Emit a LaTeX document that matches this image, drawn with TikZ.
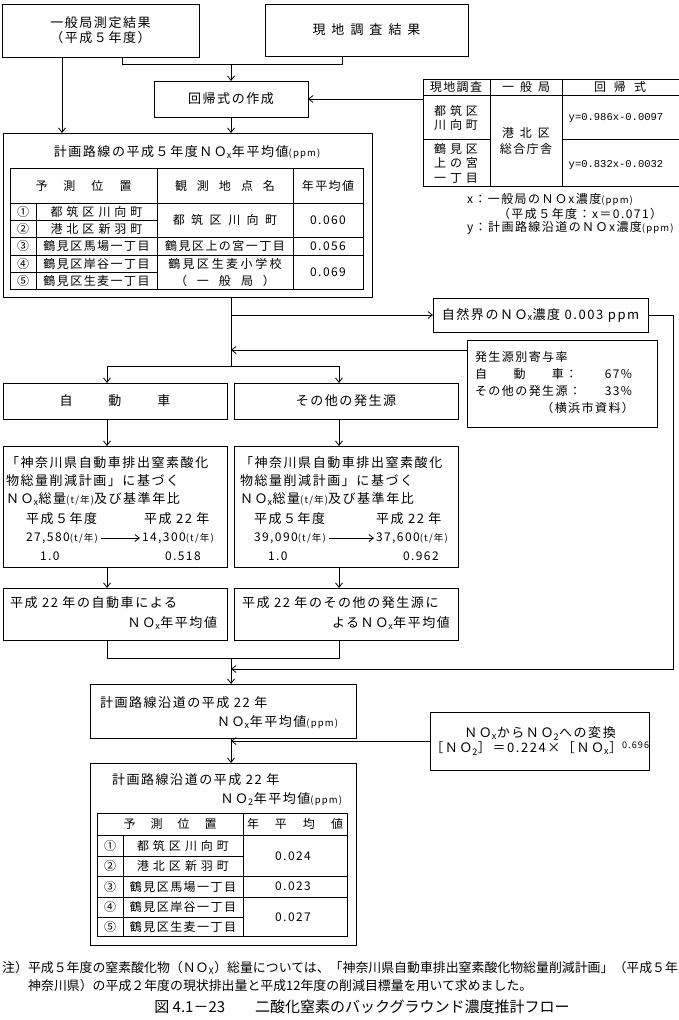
\documentclass[tikz,border=0pt]{standalone}
\usepackage{fontspec}
\setmainfont{Noto Sans CJK JP}[LetterSpace=12]
\newfontfamily\plainjp{Noto Sans CJK JP}
\newfontfamily\monof{Liberation Mono}
\usetikzlibrary{arrows.meta}
\newcommand\smtxt[1]{{\fontsize{9.5}{11}\selectfont #1}}
\newcommand\NOx{ＮＯ\textsubscript{x}}
\newcommand\NOtwo{ＮＯ\textsubscript{2}}
\begin{document}
\begin{tikzpicture}[x=1pt,y=-1pt,
  box/.style={draw,line width=0.9pt,inner sep=0pt,outer sep=0pt,align=center,font=\fontsize{13}{15}\selectfont},
  t/.style={inner sep=0pt,outer sep=0pt,font=\fontsize{13}{15}\selectfont},
  ts/.style={inner sep=0pt,outer sep=0pt,font=\fontsize{12}{14}\selectfont},
  tn/.style={inner sep=0pt,outer sep=0pt,font=\fontsize{11.5}{13}\selectfont},
  ar/.style={line width=0.8pt,-{Straight Barb[length=4.5pt,width=7pt]}},
  ln/.style={line width=0.8pt},
  tl/.style={line width=0.8pt}]
\fill[white] (0,0) rectangle (679,1020);
\useasboundingbox (0,0) rectangle (679,1020);

% ---------- top boxes
\node[box,minimum width=197,minimum height=53] (A) at (100.5,30.5) {一般局測定結果\\（平成５年度）};
\node[box,minimum width=203,minimum height=52] (B) at (366.5,30) {現\hspace{6pt}地\hspace{6pt}調\hspace{6pt}査\hspace{6pt}結\hspace{6pt}果};
\node[box,minimum width=154,minimum height=36] (C) at (231,99) {回帰式の作成};
\node[box,minimum width=369,minimum height=164] (D) at (187.5,215) {};

\coordinate (jA) at (122,64); \coordinate (jB) at (342,64); \coordinate (jC) at (231,64); \coordinate (xA) at (62,0);
\draw[ln] (A.south -| jA) -- (jA) -- (jB) -- (B.south -| jB);
\draw[ar] (jC) -- (C.north);
\draw[ar] (A.south -| xA) -- (D.north -| xA);
\draw[ar] (C.south) -- (D.north -| C.south);

% ---------- regression table (top right)
\draw[tl] (423,79) -- (679,79) (423,95) -- (679,95) (423,186) -- (679,186);
\draw[tl] (423,79) -- (423,186) (490,79) -- (490,186) (562,79) -- (562,186);
\draw[tl] (423,139) -- (490,139) (562,139) -- (679,139);
\coordinate (T1) at (423,99);
\draw[ar] (T1) -- (C.east);
\node[ts] (th1) at (456,87) {現地調査};
\node[ts] (th2) at (526,87) {一\hspace{6pt}般\hspace{6pt}局};
\node[ts] (th3) at (620,87) {回\hspace{8pt}帰\hspace{8pt}式};
\node[ts,align=center,font=\fontsize{12}{13.5}\selectfont] (tr1) at (456,118) {都\hspace{4pt}筑\hspace{4pt}区\\川\hspace{4pt}向\hspace{4pt}町};
\node[ts,align=center,font=\fontsize{12}{14.5}\selectfont] (tr2) at (456,163) {鶴\hspace{4pt}見\hspace{4pt}区\\上\hspace{4pt}の\hspace{4pt}宮\\一\hspace{4pt}丁\hspace{4pt}目};
\node[ts,align=center,font=\fontsize{12}{16}\selectfont] (tr3) at (526,141) {港\hspace{6pt}北\hspace{6pt}区\\総合庁舎};
\node[inner sep=0pt,font=\monof\fontsize{10.5}{12}\selectfont] (te1) at (616,118) {y=0.986x-0.0097};
\node[inner sep=0pt,font=\monof\fontsize{10.5}{12}\selectfont] (te2) at (616,165) {y=0.832x-0.0032};
\node[ts,anchor=west] (tn1) at (467,200) {x：一般局のＮＯx濃度\smtxt{(ppm)}};
\node[ts,anchor=west] (tn2) at (498,214) {（平成５年度：x＝0.071）};
\node[ts,anchor=west] (tn3) at (467,228) {y：計画路線沿道のＮＯx濃度\smtxt{(ppm)}};

% ---------- box D content
\node[t] (dT) at (187,152) {計画路線の平成５年度\NOx 年平均値\smtxt{(ppm)}};
\draw[tl] (10,168) rectangle (363,289);
\draw[tl] (10,203) -- (363,203) (10,237) -- (363,237) (10,255) -- (363,255);
\draw[tl] (10,220) -- (157,220) (10,272) -- (157,272);
\draw[tl] (36,203) -- (36,289) (157,168) -- (157,289) (293,168) -- (293,289);
\node[ts] (dh1) at (83.5,185.5) {予\hspace{16pt}測\hspace{16pt}位\hspace{16pt}置};
\node[ts] (dh2) at (225,185.5) {観\hspace{10pt}測\hspace{10pt}地\hspace{10pt}点\hspace{10pt}名};
\node[ts] (dh3) at (328,185.5) {年平均値};
\node[ts] (dn1) at (23,211.5) {①};
\node[ts] (dn2) at (23,228.5) {②};
\node[ts] (dn3) at (23,246) {③};
\node[ts] (dn4) at (23,263.5) {④};
\node[ts] (dn5) at (23,280.5) {⑤};
\node[ts] (dl1) at (96.5,211.5) {都\hspace{4pt}筑\hspace{4pt}区\hspace{4pt}川\hspace{4pt}向\hspace{4pt}町};
\node[ts] (dl2) at (96.5,228.5) {港\hspace{4pt}北\hspace{4pt}区\hspace{4pt}新\hspace{4pt}羽\hspace{4pt}町};
\node[ts] (dl3) at (96.5,246) {鶴見区馬場一丁目};
\node[ts] (dl4) at (96.5,263.5) {鶴見区岸谷一丁目};
\node[ts] (dl5) at (96.5,280.5) {鶴見区生麦一丁目};
\node[ts] (do1) at (225,220) {都\hspace{6.5pt}筑\hspace{6.5pt}区\hspace{6.5pt}川\hspace{6.5pt}向\hspace{6.5pt}町};
\node[ts] (do2) at (225,246) {鶴見区上の宮一丁目};
\node[ts] (do3) at (225,264) {鶴\hspace{2.5pt}見\hspace{2.5pt}区\hspace{2.5pt}生\hspace{2.5pt}麦\hspace{2.5pt}小\hspace{2.5pt}学\hspace{2.5pt}校};
\node[ts] (do4) at (225,280.5) {（\hspace{10pt}一\hspace{10pt}般\hspace{10pt}局\hspace{10pt}）};
\node[ts] (dv1) at (328,220) {0.060};
\node[ts] (dv2) at (328,246) {0.056};
\node[ts] (dv3) at (328,272) {0.069};

% ---------- natural / source share
\node[box,minimum width=215,minimum height=34] (N) at (540.5,315) {自然界の\NOx 濃度 0.003 ppm};
\node[box,minimum width=190,minimum height=87] (S) at (562,383.5) {};
\node[ts,anchor=west] (s1) at (475,357) {発生源別寄与率};
\node[ts,anchor=west] (s2) at (475,374) {自\hspace{26.5pt}動\hspace{26.5pt}車：};
\node[ts,anchor=west] (s3) at (475,391) {その他の発生源：};
\node[ts,anchor=east] (s4) at (632,374) {67\%};
\node[ts,anchor=east] (s5) at (632,391) {33\%};
\node[ts,anchor=east] (s6) at (634,408) {（横浜市資料）};

\coordinate (m1) at (231,315); \coordinate (m2) at (231,350);
\coordinate (sp) at (231,366); \coordinate (spL) at (107,366); \coordinate (spR) at (339,366);
\draw[ln] (D.south -| sp) -- (sp);
\draw[ar] (m1) -- (N.west);
\draw[ar] (S.west |- m2) -- (m2);
\draw[ln] (spL) -- (spR);

% ---------- two branches
\node[box,minimum width=224,minimum height=36] (Car) at (115,401) {自\hspace{36pt}動\hspace{36pt}車};
\node[box,minimum width=224,minimum height=36] (Oth) at (346,401) {その他の発生源};
\node[box,minimum width=224,minimum height=121] (Car2) at (115,506.5) {};
\node[box,minimum width=224,minimum height=121] (Oth2) at (346,506.5) {};
\node[box,minimum width=224,minimum height=52] (Car3) at (115,614) {};
\node[box,minimum width=224,minimum height=52] (Oth3) at (346,614) {};

\draw[ar] (spL) -- (Car.north -| spL);
\draw[ar] (spR) -- (Oth.north -| spR);
\draw[ar] (Car.south -| spL) -- (Car2.north -| spL);
\draw[ar] (Oth.south -| spR) -- (Oth2.north -| spR);
\draw[ar] (Car2.south -| spL) -- (Car3.north -| spL);
\draw[ar] (Oth2.south -| spR) -- (Oth3.north -| spR);

% left middle box text
\node[t,anchor=west] (c1) at (6,463) {「神奈川県自動車排出窒素酸化};
\node[t,anchor=west] (c2) at (6,481) {物総量削減計画」に基づく};
\node[t,anchor=west] (c3) at (6,499) {\NOx 総量\smtxt{(t/年)}及び基準年比};
\node[t,anchor=west] (c4) at (26,519) {平成５年度};
\node[t,anchor=west] (c5) at (144,519) {平成 22 年};
\node[ts,anchor=west] (c6) at (26,538) {27,580\smtxt{(t/年)}};
\node[ts,anchor=west] (c7) at (142,538) {14,300\smtxt{(t/年)}};
\node[ts,anchor=west] (c8) at (40,556) {1.0};
\node[ts,anchor=west] (c9) at (165,556) {0.518};
\draw[ar] ([xshift=3pt]c6.east) -- ([xshift=-2pt]c7.west);

% right middle box text
\node[t,anchor=west] (o1) at (240,463) {「神奈川県自動車排出窒素酸化};
\node[t,anchor=west] (o2) at (240,481) {物総量削減計画」に基づく};
\node[t,anchor=west] (o3) at (240,499) {\NOx 総量\smtxt{(t/年)}及び基準年比};
\node[t,anchor=west] (o4) at (254,519) {平成５年度};
\node[t,anchor=west] (o5) at (376,519) {平成 22 年};
\node[ts,anchor=west] (o6) at (254,538) {39,090\smtxt{(t/年)}};
\node[ts,anchor=west] (o7) at (376,538) {37,600\smtxt{(t/年)}};
\node[ts,anchor=west] (o8) at (268,556) {1.0};
\node[ts,anchor=west] (o9) at (403,556) {0.962};
\draw[ar] ([xshift=3pt]o6.east) -- ([xshift=-2pt]o7.west);

% lower branch box text
\node[t,anchor=west] (c10) at (10,603) {平成 22 年の自動車による};
\node[t,anchor=east] (c11) at (217,623) {\NOx 年平均値};
\node[t,anchor=west] (o10) at (242,603) {平成 22 年のその他の発生源に};
\node[t,anchor=east] (o11) at (450,623) {よる\NOx 年平均値};

% merge and return
\coordinate (mg) at (231,658);
\coordinate (r1) at (673,315); \coordinate (r2) at (673,669); \coordinate (r3) at (231,669);
\draw[ln] (Car3.south -| spL) -- (spL |- mg) -- (spR |- mg) -- (Oth3.south -| spR);
\draw[ar] (N.east) -- (r1) -- (r2) -- (r3);

% ---------- final boxes
\node[box,minimum width=266,minimum height=54] (E) at (223,711) {};
\node[box,minimum width=216,minimum height=58] (X) at (540,741) {\NOx からＮＯ\textsubscript{2}への変換\\［\NOtwo］＝0.224×［\NOx］\textsuperscript{0.696}};
\node[box,minimum width=266,minimum height=182] (F) at (223,854) {};
\draw[ar] (mg) -- (E.north -| mg);
\draw[ar] (X.west) -- (X.west -| mg);
\draw[ar] (E.south -| mg) -- (F.north -| mg);

\node[t,anchor=west] (e1) at (100,703) {計画路線沿道の平成 22 年};
\node[t,anchor=east] (e2) at (338,722) {\NOx 年平均値\smtxt{(ppm)}};

\node[t,anchor=west] (f1) at (112,780) {計画路線沿道の平成 22 年};
\node[t,anchor=east] (f2) at (342,799) {\NOtwo 年平均値\smtxt{(ppm)}};
\draw[tl] (97,813) rectangle (347,936);
\draw[tl] (97,835) -- (347,835) (97,876) -- (347,876) (97,897) -- (347,897);
\draw[tl] (97,856) -- (243,856) (97,917) -- (243,917);
\draw[tl] (123,835) -- (123,936) (243,813) -- (243,936);
\node[ts] (fh1) at (170,824) {予\hspace{15pt}測\hspace{15pt}位\hspace{15pt}置};
\node[ts] (fh2) at (295,824) {年\hspace{16pt}平\hspace{16pt}均\hspace{16pt}値};
\node[ts] (fn1) at (110,845.5) {①};
\node[ts] (fn2) at (110,866) {②};
\node[ts] (fn3) at (110,886.5) {③};
\node[ts] (fn4) at (110,907) {④};
\node[ts] (fn5) at (110,926.5) {⑤};
\node[ts] (fl1) at (183,845.5) {都\hspace{4pt}筑\hspace{4pt}区\hspace{4pt}川\hspace{4pt}向\hspace{4pt}町};
\node[ts] (fl2) at (183,866) {港\hspace{4pt}北\hspace{4pt}区\hspace{4pt}新\hspace{4pt}羽\hspace{4pt}町};
\node[ts] (fl3) at (183,886.5) {鶴見区馬場一丁目};
\node[ts] (fl4) at (183,907) {鶴見区岸谷一丁目};
\node[ts] (fl5) at (183,926.5) {鶴見区生麦一丁目};
\node[ts] (fv1) at (293,856) {0.024};
\node[ts] (fv2) at (293,886.5) {0.023};
\node[ts] (fv3) at (293,917) {0.027};

% ---------- footnote and caption
\node[anchor=west,inner sep=0pt,font=\plainjp\fontsize{12.9}{14}\selectfont] (n1) at (2,968) {注）平成５年度の窒素酸化物（ＮＯ\textsubscript{X}）総量については、「神奈川県自動車排出窒素酸化物総量削減計画」（平成５年};
\node[anchor=west,inner sep=0pt,font=\plainjp\fontsize{12.9}{14}\selectfont] (n2) at (28,986) {神奈川県）の平成２年度の現状排出量と平成12年度の削減目標量を用いて求めました。};
\node[inner sep=0pt,font=\plainjp\fontsize{15}{17}\selectfont] (cap) at (362,1007) {図 4.1－23\hspace{2em}二酸化窒素のバックグラウンド濃度推計フロー};
\end{tikzpicture}
\end{document}
